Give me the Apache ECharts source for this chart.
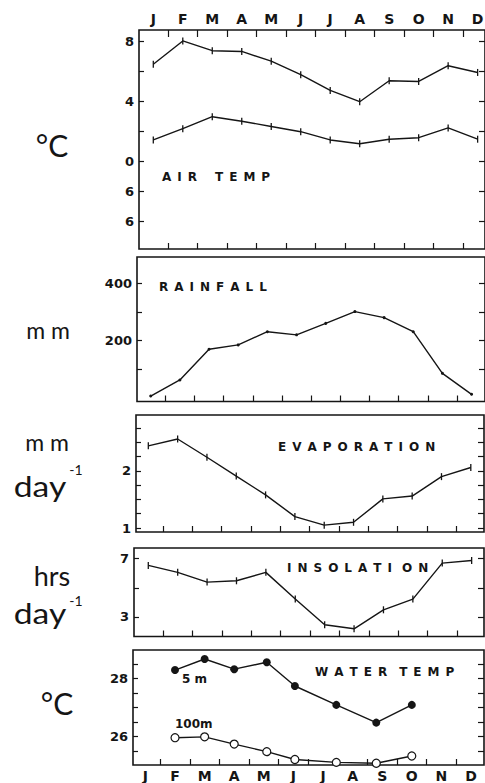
<!DOCTYPE html>
<html>
<head>
<meta charset="utf-8">
<script src="https://cdn.jsdelivr.net/npm/echarts@6/dist/echarts.min.js"></script>
<style>
  html, body { margin: 0; padding: 0; background: #fff; }
  #chart { width: 485px; height: 783px; }
</style>
</head>
<body>
<div id="chart"></div>
<script>
// months along the top and bottom axes
const months = ['J', 'F', 'M', 'A', 'M', 'J', 'J', 'A', 'S', 'O', 'N', 'D']

// air temperature, two curves
const airUpper = [6.5, 8.05, 7.4, 7.35, 6.7, 5.8, 4.75, 4.0, 5.4, 5.35, 6.4, 5.95]
const airLower = [1.45, 2.2, 3.0, 2.7, 2.35, 2.0, 1.45, 1.2, 1.5, 1.6, 2.25, 1.5]
const airTicks = [-4, -2, 0, 2, 4, 6, 8]
const airLabelValues = [8, 4, 0, -2, -4]
const airLabelText = ['8', '4', '0', '6', '6']

// rainfall (mm)
const rainfall = [7, 63, 170, 185, 231, 220, 260, 301, 280, 231, 86, 13]
const rainTicks = [100, 200, 300, 400]
const rainLabels = [200, 400]

// evaporation (mm/day)
const evaporation = [2.44, 2.56, 2.24, 1.91, 1.58, 1.2, 1.05, 1.1, 1.51, 1.56, 1.9, 2.06]
const evapTicks = [1, 1.25, 1.5, 1.75, 2, 2.25, 2.5, 2.75]
const evapLabels = [1, 2]

// insolation (hrs/day)
const insolation = [6.54, 6.06, 5.39, 5.48, 6.06, 4.22, 2.45, 2.17, 3.48, 4.22, 6.7, 6.88]
const insoTicks = [3, 5, 7]
const insoLabels = [3, 7]

// water temperature, sampled on these month positions
const waterMonths = [1, 2, 3, 4.1, 5.05, 6.45, 7.8, 9]
const water5m = [28.29, 28.67, 28.32, 28.56, 27.74, 27.09, 26.48, 27.09]
const water100m = [25.96, 25.99, 25.74, 25.48, 25.21, 25.11, 25.08, 25.33]
const waterTicks = [25.5, 26, 26.5, 27, 27.5, 28, 28.5]
const waterLabels = [26, 28]

const ink = '#151515'
const font = 'DejaVu Sans'
const monthIdx = months.map((m, i) => i)
const bounds = months.slice(1).map((m, i) => i + 0.5)

const grids = []
const xAxes = []
const yAxes = []
const series = []

function addPanel(p) {
  const gi = grids.length
  grids.push({
    left: p.left, top: p.top, width: p.width, height: p.height,
    outerBoundsMode: 'none', containLabel: false,
    show: true, borderColor: ink, borderWidth: 1.6
  })
  const tick = { color: ink, width: 1.2 }
  const xBase = {
    type: 'value', gridIndex: gi, min: p.xmin, max: p.xmax,
    axisLine: { show: false, onZero: false }, splitLine: { show: false }
  }
  xAxes.push(Object.assign({}, xBase, {
    position: 'bottom',
    axisTick: { show: true, inside: true, length: 6, lineStyle: tick, customValues: bounds },
    axisLabel: {
      show: !!p.bottomLabels, customValues: monthIdx, margin: 4,
      formatter: v => months[Math.round(v)],
      color: ink, fontFamily: font, fontWeight: 'bold', fontSize: 14
    }
  }))
  xAxes.push(Object.assign({}, xBase, {
    position: 'top',
    axisTick: { show: !!p.topLabels, inside: true, length: 7, lineStyle: tick, customValues: bounds },
    axisLabel: {
      show: !!p.topLabels, customValues: monthIdx, margin: 4,
      formatter: v => months[Math.round(v)],
      color: ink, fontFamily: font, fontWeight: 'bold', fontSize: 14
    }
  }))
  const yBase = {
    type: 'value', gridIndex: gi, min: p.ymin, max: p.ymax,
    axisLine: { show: false, onZero: false }, splitLine: { show: false }
  }
  yAxes.push(Object.assign({}, yBase, {
    position: 'left',
    axisTick: { show: true, inside: true, length: 5, lineStyle: tick, customValues: p.ticks },
    axisLabel: {
      customValues: p.labels, margin: 5,
      formatter: p.fmt || (v => String(v)),
      color: ink, fontFamily: font, fontWeight: 'bold', fontSize: 13
    }
  }))
  // right-hand ticks: a second left axis shifted across to the right frame,
  // its outward ticks then point back into the panel
  yAxes.push(Object.assign({}, yBase, {
    position: 'left', offset: -p.width,
    axisTick: { show: true, inside: false, length: 6, lineStyle: tick, customValues: p.ticks },
    axisLabel: { show: false }
  }))
  p.lines.forEach(l => {
    series.push(Object.assign({
      type: 'line', xAxisIndex: gi * 2, yAxisIndex: gi * 2,
      data: l.data, symbol: 'rect', symbolSize: [1.3, 7],
      lineStyle: { color: ink, width: 1.4 },
      itemStyle: { color: ink },
      animation: false
    }, l.extra || {}))
  })
}

addPanel({
  left: 139, top: 30, width: 346, height: 219,
  xmin: -0.485, xmax: 11.25, ymin: -5.82, ymax: 8.78,
  ticks: airTicks, labels: airLabelValues,
  fmt: v => airLabelText[airLabelValues.indexOf(v)],
  topLabels: true,
  lines: [
    { data: airUpper.map((v, i) => [i, v]) },
    { data: airLower.map((v, i) => [i, v]) }
  ]
})

addPanel({
  left: 137, top: 257, width: 348, height: 144.5,
  xmin: -0.47, xmax: 11.46, ymin: -12, ymax: 491,
  ticks: rainTicks, labels: rainLabels,
  lines: [
    { data: rainfall.map((v, i) => [i, v]), extra: { symbol: 'circle', symbolSize: 3 } }
  ]
})

addPanel({
  left: 136, top: 415, width: 348, height: 117,
  xmin: -0.42, xmax: 11.45, ymin: 0.93, ymax: 2.98,
  ticks: evapTicks, labels: evapLabels,
  lines: [{ data: evaporation.map((v, i) => [i, v]) }]
})

addPanel({
  left: 134, top: 548, width: 350, height: 88.5,
  xmin: -0.486, xmax: 11.42, ymin: 1.64, ymax: 7.74,
  ticks: insoTicks, labels: insoLabels,
  lines: [{ data: insolation.map((v, i) => [i, v]) }]
})

addPanel({
  left: 133, top: 650, width: 351, height: 115,
  xmin: -0.42, xmax: 11.44, ymin: 25.02, ymax: 28.98,
  ticks: waterTicks, labels: waterLabels,
  bottomLabels: true,
  lines: [
    {
      data: waterMonths.map((m, i) => [m, water5m[i]]),
      extra: { symbol: 'circle', symbolSize: 8 }
    },
    {
      data: waterMonths.map((m, i) => [m, water100m[i]]),
      extra: {
        symbol: 'circle', symbolSize: 8,
        itemStyle: { color: '#fff', borderColor: ink, borderWidth: 1.2 }
      }
    }
  ]
})

// free text: units on the left, captions inside the panels
const sp = '\u2002'
function txt(x, y, text, size, sx) {
  return {
    type: 'text', x: x, y: y, scaleX: sx || 1, silent: true,
    style: {
      text: text, fill: ink,
      font: size + 'px Lato',
      textAlign: 'center', textVerticalAlign: 'middle'
    }
  }
}
function caption(x, y, text, gap) {
  return {
    type: 'text', x: x, y: y, silent: true,
    style: {
      text: text.split(' ').map(w => w.split('').join(sp)).join(gap || sp + sp + sp),
      fill: ink,
      font: 'bold 12px "DejaVu Sans"',
      textAlign: 'left', textVerticalAlign: 'middle'
    }
  }
}

const graphics = [
  txt(52, 145, '°C', 30),
  txt(48, 330, 'm m', 23),
  txt(47, 442, 'm m', 23),
  txt(40, 486, 'day', 28, 1.2),
  txt(76, 469, '-1', 14),
  txt(52, 575, 'hrs', 27),
  txt(40, 613, 'day', 28, 1.2),
  txt(76, 600, '-1', 14),
  txt(57, 703, '°C', 30),
  caption(162, 177, 'AIR TEMP'),
  caption(159, 287, 'RAINFALL'),
  caption(278, 447, 'EVAPORATION'),
  caption(287, 568, 'INSOLATI ON', sp + ' '),
  caption(315, 672, 'WATER TEMP', sp + sp),
  {
    type: 'text', x: 182, y: 679, silent: true,
    style: { text: '5 m', fill: ink, font: 'bold 12px "DejaVu Sans"', textVerticalAlign: 'middle' }
  },
  {
    type: 'text', x: 175, y: 724, silent: true,
    style: { text: '100m', fill: ink, font: 'bold 12px "DejaVu Sans"', textVerticalAlign: 'middle' }
  }
]

const chart = echarts.init(document.getElementById('chart'), null, { renderer: 'svg' })
chart.setOption({
  backgroundColor: '#fff',
  animation: false,
  grid: grids,
  xAxis: xAxes,
  yAxis: yAxes,
  series: series,
  graphic: graphics
})
</script>
</body>
</html>
